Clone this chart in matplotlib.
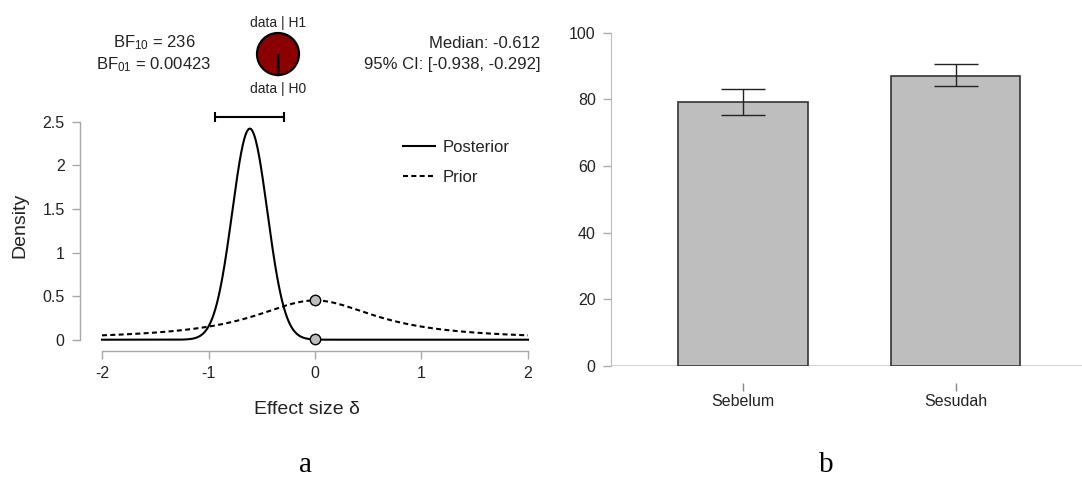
import numpy as np
import matplotlib
matplotlib.use("Agg")
from matplotlib import pyplot as plt

plt.rcParams['font.family'] = ['Liberation Sans', 'DejaVu Sans']
plt.rcParams['mathtext.fontset'] = 'custom'
plt.rcParams['mathtext.rm'] = 'Liberation Sans'
plt.rcParams['mathtext.it'] = 'Liberation Sans:italic'

# panel a: Bayesian t-test summary (values printed on the chart)
bf10 = 236
bf01 = 0.00423
post_median = -0.612
ci_lower = -0.938
ci_upper = -0.292
ci_height = 2.55
prior_scale = 0.707   # Cauchy prior, peak ~0.45
delta_ticks = [-2, -1, 0, 1, 2]
density_ticks = [0, 0.5, 1, 1.5, 2, 2.5]

# panel b: means with error bars
groups = ['Sebelum', 'Sesudah']
means = [79.2, 87.1]
err_low = [75.3, 83.9]
err_high = [83.2, 90.6]
score_ticks = [0, 20, 40, 60, 80, 100]

W, H = 1082, 479
fig = plt.figure(figsize=(W / 100, H / 100), dpi=100)

def box(l, t, r, b):
    # pixel box -> figure fraction rect
    return [l / W, 1 - b / H, (r - l) / W, (b - t) / H]

txt = '#222222'
spine_col = '#A8A8A8'

# ---- panel a ----
ax = fig.add_axes(box(80, 100, 533, 351))
x = np.linspace(-2, 2, 801)
sd = (ci_upper - ci_lower) / (2 * 1.96)
post = np.exp(-0.5 * ((x - post_median) / sd) ** 2) / (sd * np.sqrt(2 * np.pi))
prior = 1.0 / (np.pi * prior_scale * (1 + (x / prior_scale) ** 2))

ax.plot(x, post, color='black', lw=1.5, label='Posterior')
ax.plot(x, prior, color='black', lw=1.5, ls=(0, (2.4, 1.6)), label='Prior')
post0 = np.exp(-0.5 * (post_median / sd) ** 2) / (sd * np.sqrt(2 * np.pi))
prior0 = 1.0 / (np.pi * prior_scale)
ax.plot([0, 0], [prior0, post0], 'o', ms=7.5, mfc='#BEBEBE', mec='black',
        mew=1, zorder=5, clip_on=False)
ax.errorbar(post_median, ci_height,
            xerr=[[post_median - ci_lower], [ci_upper - post_median]],
            fmt='none', ecolor='black', elinewidth=1.5, capsize=3.3,
            capthick=1.5, clip_on=False)

ax.set_xlim(-2.2066, 2.047)
ax.set_ylim(-0.1296, 2.749)
ax.set_xticks(delta_ticks)
ax.set_yticks(density_ticks)
ax.set_xticklabels([f'{v:g}' for v in delta_ticks])
ax.set_yticklabels([f'{v:g}' for v in density_ticks])
for s in ['top', 'right']:
    ax.spines[s].set_visible(False)
ax.spines['left'].set_bounds(0, 2.5)
ax.spines['bottom'].set_bounds(-2, 2)
for s in ['left', 'bottom']:
    ax.spines[s].set_color(spine_col)
    ax.spines[s].set_linewidth(1)
ax.tick_params(axis='both', colors=spine_col, labelcolor=txt, labelsize=11.5,
               length=6, width=1, pad=5)
ax.set_xlabel('Effect size δ', fontsize=14, color=txt, labelpad=14)
ax.set_ylabel('Density', fontsize=14, color=txt, labelpad=10)
leg = ax.legend(loc='upper left', bbox_to_anchor=(403 / W, 1 - 140 / H),
                bbox_transform=fig.transFigure, frameon=False, fontsize=12,
                handlelength=1.9, handletextpad=0.5, borderpad=0,
                borderaxespad=0, labelspacing=0.92)
for t in leg.get_texts():
    t.set_color(txt)

# header texts
fig.text(154 / W, 1 - 43 / H, 'BF$_{10}$ = %d' % bf10, ha='center',
         va='center', fontsize=12, color=txt)
fig.text(154 / W, 1 - 65 / H, 'BF$_{01}$ = %g' % bf01, ha='center',
         va='center', fontsize=12, color=txt)
fig.text(540 / W, 1 - 43 / H, 'Median: %.3f' % post_median, ha='right',
         va='center', fontsize=12, color=txt)
fig.text(540 / W, 1 - 65 / H, '95%% CI: [%.3f, %.3f]' % (ci_lower, ci_upper),
         ha='right', va='center', fontsize=12, color=txt)
fig.text(278 / W, 1 - 22.5 / H, 'data | H1', ha='center', va='center',
         fontsize=10, color=txt)
fig.text(278 / W, 1 - 88.5 / H, 'data | H0', ha='center', va='center',
         fontsize=10, color=txt)

pax = fig.add_axes(box(257, 33, 299, 75))
p_h1 = bf10 / (1 + bf10)
wedges, _ = pax.pie([1 - p_h1, p_h1], colors=['white', '#8B0000'],
                    startangle=-90, counterclock=True,
                    wedgeprops=dict(edgecolor='black', linewidth=1.6))
for w in wedges:
    w.set_clip_on(False)
pax.set_xlim(-1, 1)
pax.set_ylim(-1, 1)
pax.set_aspect('equal')
pax.axis('off')

fig.text(305 / W, 1 - 478.5 / H, 'a', ha='center', va='bottom',
         fontsize=21, family='Liberation Serif', color='black')

# ---- panel b ----
bx = fig.add_axes(box(611, 32.7, 1082, 366))
pos = np.arange(len(groups))
bx.bar(pos, means, width=0.61, color='#BEBEBE', edgecolor='#333333',
       linewidth=1.2, zorder=2)
lo = np.array(means) - np.array(err_low)
hi = np.array(err_high) - np.array(means)
bx.errorbar(pos, means, yerr=[lo, hi], fmt='none', ecolor='#222222',
            elinewidth=1, capsize=15.5, capthick=1, zorder=3)
bx.axhline(0, color='#CCCCCC', lw=1.2, zorder=1)
bx.set_xlim(-0.621, 1.595)
bx.set_ylim(0, 100)
bx.set_xticks(pos)
bx.set_xticklabels(groups)
bx.set_yticks(score_ticks)
for s in ['top', 'right']:
    bx.spines[s].set_visible(False)
bx.spines['bottom'].set_position(('outward', 12))
bx.spines['bottom'].set_visible(False)
bx.spines['left'].set_bounds(0, 100)
bx.spines['left'].set_color('#BBBBBB')
bx.tick_params(axis='y', colors='#AAAAAA', labelcolor=txt, labelsize=11.5,
               length=6, width=1, pad=5)
bx.tick_params(axis='x', colors='#888888', labelcolor=txt, labelsize=11.5,
               length=6, width=1, pad=2)

fig.text(826 / W, 1 - 478.5 / H, 'b', ha='center', va='bottom',
         fontsize=21, family='Liberation Serif', color='black')

fig.savefig('out.png', dpi=100)
